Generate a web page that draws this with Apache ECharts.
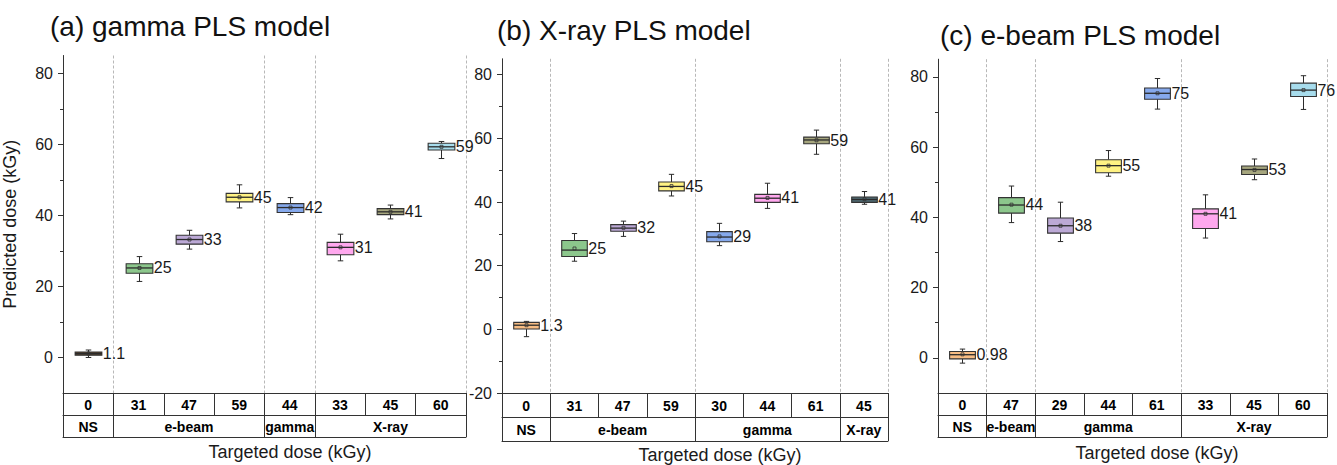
<!DOCTYPE html>
<html><head><meta charset="utf-8">
<script src="https://cdn.jsdelivr.net/npm/echarts@6/dist/echarts.min.js"></script>
<style>html,body{margin:0;padding:0;background:#fff}#c{width:1337px;height:465px}</style>
</head><body><div id="c"></div>
<script>
// ---------- data ----------
const aDoses = ['0', '31', '47', '59', '44', '33', '45', '60'];
const aGroups = ['NS', 'e-beam', 'e-beam', 'e-beam', 'gamma', 'X-ray', 'X-ray', 'X-ray'];
// [min, Q1, median, Q3, max, mean]
const aStats = [
  [0.0, 0.65, 1.1, 1.55, 2.1, 1.1],
  [21.4, 23.7, 25.2, 26.4, 28.4, 25.2],
  [30.5, 31.9, 33.2, 34.4, 35.8, 33.2],
  [42.1, 43.8, 45.1, 46.2, 48.6, 45.1],
  [40.2, 40.8, 42.2, 43.3, 45.0, 42.2],
  [27.2, 28.9, 31.0, 32.4, 34.7, 31.0],
  [39.0, 40.2, 41.0, 41.9, 42.9, 41.0],
  [56.0, 58.4, 59.3, 60.3, 60.8, 59.3]
];
const aLabels = ['1.1', '25', '33', '45', '42', '31', '41', '59'];

const bDoses = ['0', '31', '47', '59', '30', '44', '61', '45'];
const bGroups = ['NS', 'e-beam', 'e-beam', 'e-beam', 'gamma', 'gamma', 'gamma', 'X-ray'];
const bStats = [
  [-2.3, 0.1, 1.3, 2.2, 2.5, 1.3],
  [21.4, 22.9, 24.9, 27.9, 30.1, 25.4],
  [29.2, 30.8, 31.8, 32.9, 34.0, 31.9],
  [41.9, 43.5, 44.9, 46.3, 48.7, 45.0],
  [26.3, 27.5, 29.0, 30.7, 33.3, 29.2],
  [38.0, 39.9, 41.2, 42.4, 45.9, 41.3],
  [55.0, 58.3, 59.5, 60.4, 62.6, 59.4],
  [39.3, 39.9, 40.8, 41.6, 43.3, 40.9]
];
const bLabels = ['1.3', '25', '32', '45', '29', '41', '59', '41'];

const cDoses = ['0', '47', '29', '44', '61', '33', '45', '60'];
const cGroups = ['NS', 'e-beam', 'gamma', 'gamma', 'gamma', 'X-ray', 'X-ray', 'X-ray'];
const cStats = [
  [-1.5, -0.3, 0.9, 1.8, 2.5, 1.0],
  [38.5, 41.2, 43.5, 45.6, 48.9, 43.6],
  [33.1, 35.5, 37.6, 39.8, 44.3, 37.6],
  [51.7, 52.7, 54.7, 56.4, 59.0, 54.7],
  [70.8, 73.6, 75.3, 76.8, 79.5, 75.3],
  [34.1, 36.8, 41.0, 42.4, 46.4, 41.0],
  [50.7, 52.2, 53.6, 54.6, 56.6, 53.5],
  [70.7, 74.4, 76.2, 78.2, 80.3, 76.2]
];
const cLabels = ['0.98', '44', '38', '55', '75', '41', '53', '76'];

const majorTicksAC = [0, 20, 40, 60, 80];
const minorTicksAC = [10, 30, 50, 70];
const majorTicksB = [-20, 0, 20, 40, 60, 80];
const minorTicksB = [-10, 10, 30, 50, 70];

// ---------- styles ----------
const FONT = '"Liberation Sans", Arial, sans-serif';
const C = {
  orange: '#F7BD84', brown: '#5E4630', green: '#8CC78C', purple: '#BCA9D6', yellow: '#FFF283',
  blue: '#86A9EC', pink: '#FFA8EE', olive: '#A6A67E', lblue: '#A7DCEC', slate: '#506A72'
};
const panels = [
  { doses: aDoses, groups: aGroups, stats: aStats, labels: aLabels,
    colors: [C.brown, C.green, C.purple, C.yellow, C.blue, C.pink, C.olive, C.lblue],
    title: '(a) gamma PLS model', min: -10, major: majorTicksAC, minor: minorTicksAC,
    left: 63, top: 55.5, width: 403, r: 22, titleX: 50, titleY: 26, xtX: 290, xtY: 452, yName: 'Predicted dose (kGy)' },
  { doses: bDoses, groups: bGroups, stats: bStats, labels: bLabels,
    colors: [C.orange, C.green, C.purple, C.yellow, C.blue, C.pink, C.olive, C.slate],
    title: '(b) X-ray PLS model', min: -20, major: majorTicksB, minor: minorTicksB,
    left: 502, top: 58.8, width: 386, r: 24, titleX: 497, titleY: 30, xtX: 720, xtY: 454.5, yName: '' },
  { doses: cDoses, groups: cGroups, stats: cStats, labels: cLabels,
    colors: [C.orange, C.green, C.purple, C.yellow, C.blue, C.pink, C.olive, C.lblue],
    title: '(c) e-beam PLS model', min: -10, major: majorTicksAC, minor: minorTicksAC,
    left: 938, top: 59.2, width: 389, r: 22, titleX: 940, titleY: 35, xtX: 1157, xtY: 453, yName: '' }
];
const MAX = 85, BOTTOM = 393;

function makeRender(p) {
  return function (params, api) {
    const i = params.dataIndex;
    const cat = api.value(0);
    const band = api.size([1, 0])[0];
    const w = band * 0.53, cap = band * 0.11;
    const x = Math.round(api.coord([cat, 0])[0]) + 0.5;
    const y = k => api.coord([cat, api.value(k)])[1];
    const yMin = y(1), yQ1 = y(2), yMed = y(3), yQ3 = y(4), yMax = y(5), yMean = y(6);
    const ln = (x1, y1, x2, y2, lw) => ({ type: 'line', shape: { x1, y1, x2, y2 }, style: { stroke: '#2b2b2b', lineWidth: lw || 1 } });
    return { type: 'group', children: [
      ln(x, yMax, x, yQ3), ln(x, yQ1, x, yMin),
      ln(x - cap / 2, yMax, x + cap / 2, yMax), ln(x - cap / 2, yMin, x + cap / 2, yMin),
      { type: 'rect', shape: { x: x - w / 2, y: yQ3, width: w, height: yQ1 - yQ3 }, style: { fill: p.colors[i], stroke: '#333', lineWidth: 1.1 } },
      ln(x - w / 2, yMed, x + w / 2, yMed, 1.3),
      { type: 'rect', shape: { x: x - 1.5, y: yMean - 1.5, width: 3, height: 3 }, style: { fill: 'none', stroke: '#333', lineWidth: 0.8 } },
      { type: 'text', x: x + w / 2 + 1, y: yMean, style: { text: p.labels[i], fontSize: 16, fontFamily: FONT, fill: '#1a1a1a', align: 'left', verticalAlign: 'middle' } }
    ] };
  };
}

const grid = [], xAxis = [], yAxis = [], series = [], graphic = [];
panels.forEach((p, k) => {
  const starts = p.groups.map((g, i) => i === 0 || g !== p.groups[i - 1]);
  const mids = p.groups.map(() => false);
  let s = 0;
  for (let i = 1; i <= p.groups.length; i++) {
    if (i === p.groups.length || p.groups[i] !== p.groups[s]) { mids[Math.floor((s + i - 1) / 2)] = true; s = i; }
  }
  grid.push({ left: p.left, top: p.top, width: p.width, height: BOTTOM - p.top });
  const lineStyle = { color: '#333', width: 1 };
  const tblFont = { fontSize: 14, fontWeight: 'bold', fontFamily: 'Arial, "Liberation Sans", sans-serif', color: '#000' };
  xAxis.push({
    gridIndex: k, type: 'category', data: p.doses, position: 'bottom', boundaryGap: true,
    axisLine: { onZero: false, lineStyle },
    axisTick: { show: true, interval: 0, length: p.r, lineStyle },
    axisLabel: Object.assign({ interval: 0, margin: (p.r - 13) / 2 }, tblFont),
    splitLine: { show: true, interval: (i) => starts[i], lineStyle: { color: '#b8b8b8', type: [3, 2], width: 1 } }
  });
  xAxis.push({
    gridIndex: k, type: 'category', data: p.doses, position: 'bottom', offset: p.r, boundaryGap: true,
    axisLine: { onZero: false, lineStyle },
    axisTick: { show: true, interval: (i) => starts[i], length: p.r, lineStyle },
    axisLabel: Object.assign({ interval: (i) => mids[i], formatter: (v, i) => p.groups[i], margin: (p.r - 13) / 2 }, tblFont),
    splitLine: { show: false }
  });
  xAxis.push({
    gridIndex: k, type: 'category', data: p.doses, position: 'bottom', offset: 2 * p.r, boundaryGap: true,
    axisLine: { onZero: false, lineStyle }, axisTick: { show: false }, axisLabel: { show: false }, splitLine: { show: false }
  });
  yAxis.push({
    gridIndex: k, type: 'value', min: p.min, max: MAX,
    axisLine: { show: true, onZero: false, lineStyle: { color: '#333', width: 1 } },
    axisTick: { show: true, customValues: p.major, length: 5, lineStyle: { color: '#333' } },
    axisLabel: { customValues: p.major, fontSize: 16, fontFamily: FONT, color: '#1a1a1a', margin: 10 },
    splitLine: { show: false },
    name: p.yName, nameLocation: 'middle', nameGap: 44, nameRotate: 90,
    nameTextStyle: { fontSize: 18, fontFamily: FONT, color: '#1a1a1a' }
  });
  yAxis.push({
    gridIndex: k, type: 'value', min: p.min, max: MAX, position: 'left',
    axisLine: { show: false }, axisTick: { show: true, customValues: p.minor, length: 3, lineStyle: { color: '#333' } },
    axisLabel: { show: false }, splitLine: { show: false }
  });
  series.push({
    type: 'custom', xAxisIndex: 3 * k, yAxisIndex: 2 * k,
    data: p.stats.map((st, i) => [i].concat(st)),
    encode: { x: 0, y: [1, 2, 3, 4, 5] },
    renderItem: makeRender(p), silent: true
  });
  graphic.push({ type: 'text', x: p.titleX, y: p.titleY, style: { text: p.title, fontSize: 28, fontFamily: FONT, fill: '#111', align: 'left', verticalAlign: 'middle' } });
  graphic.push({ type: 'text', x: p.xtX, y: p.xtY, style: { text: 'Targeted dose (kGy)', fontSize: 18, fontFamily: FONT, fill: '#1a1a1a', align: 'center', verticalAlign: 'middle' } });
});

const chart = echarts.init(document.getElementById('c'), null, { renderer: 'svg' });
chart.setOption({ animation: false, backgroundColor: '#fff', grid, xAxis, yAxis, series, graphic });
</script></body></html>
